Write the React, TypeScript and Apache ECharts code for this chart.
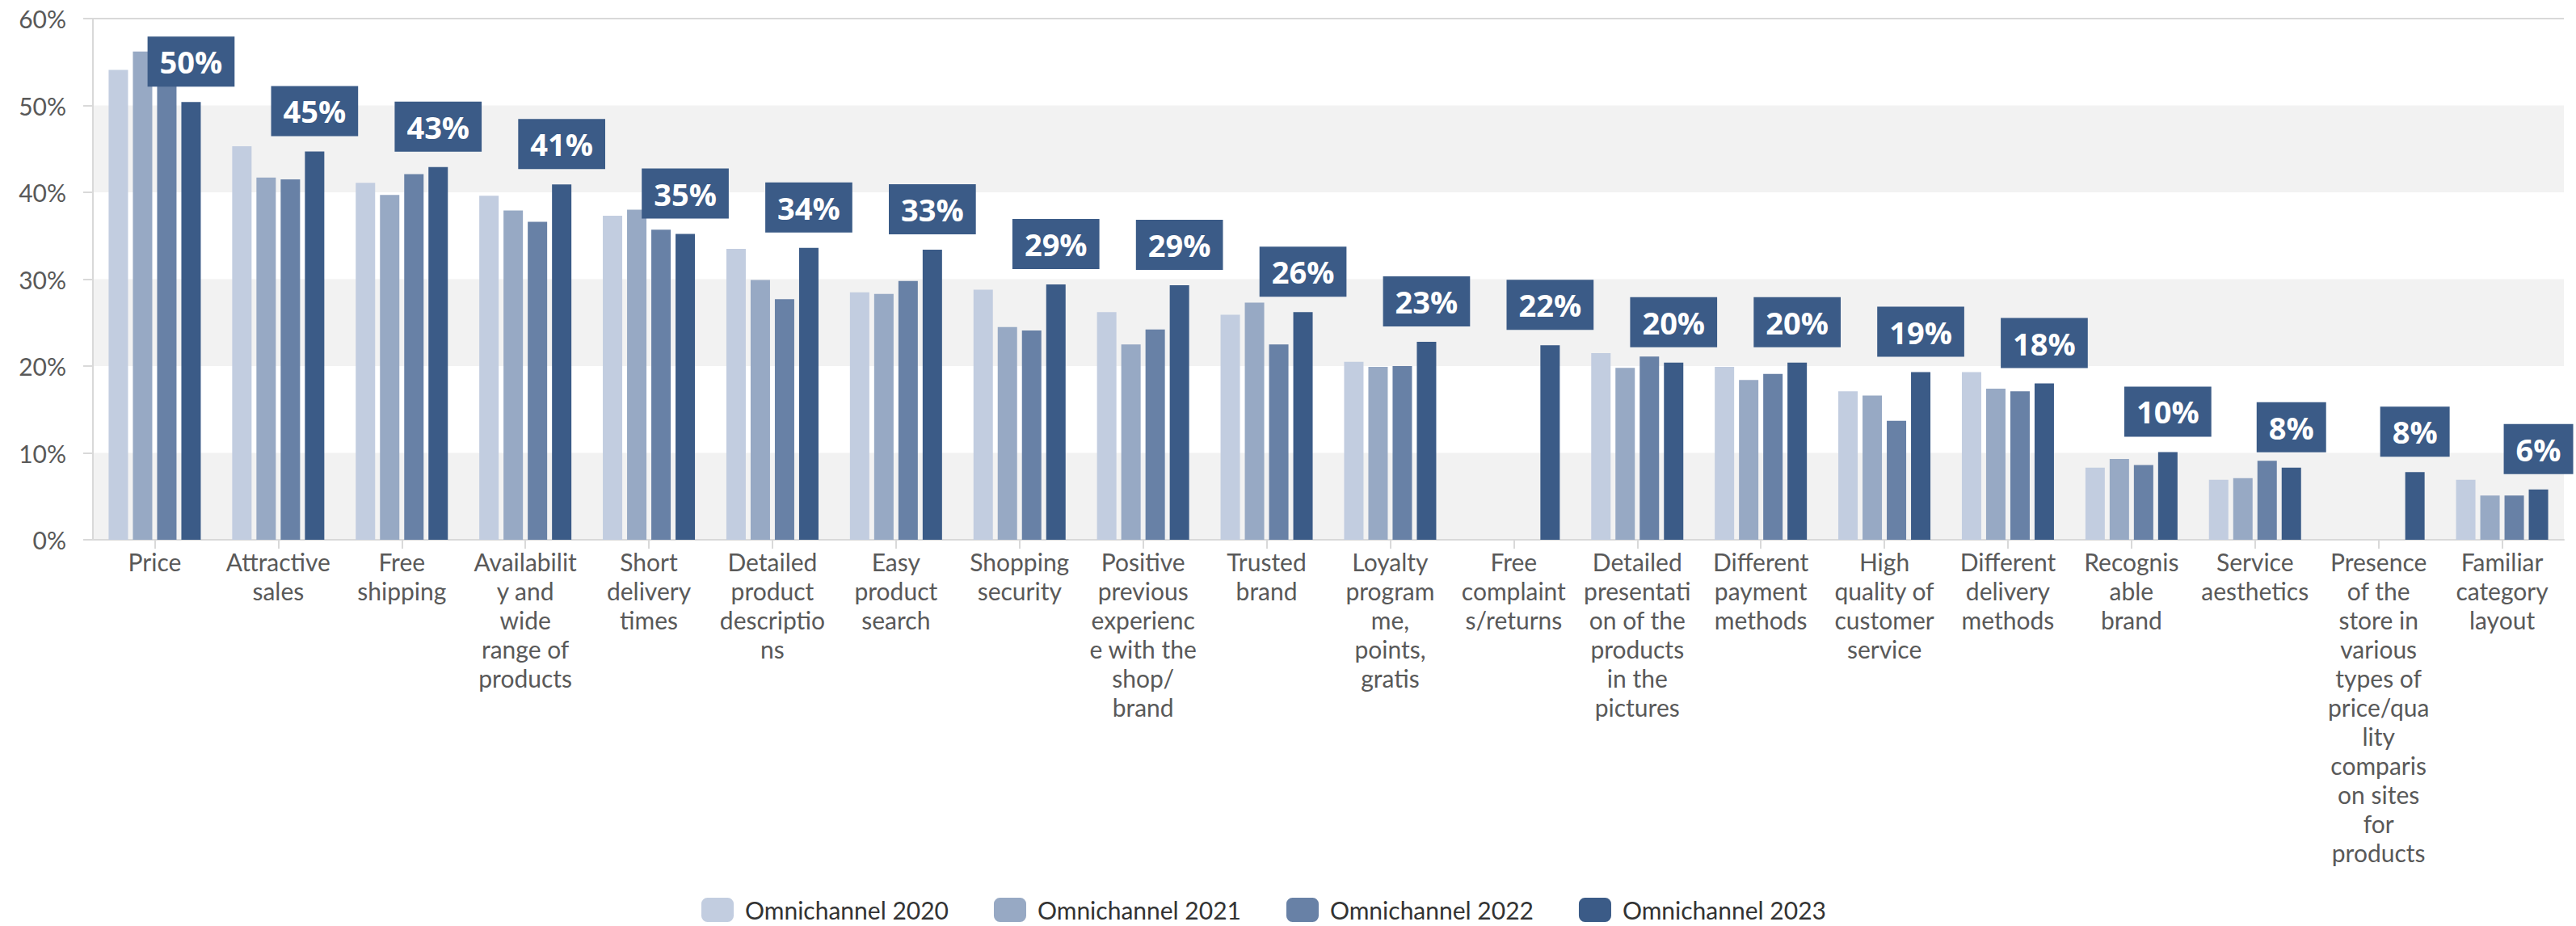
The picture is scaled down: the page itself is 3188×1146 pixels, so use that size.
import React, { useEffect, useRef } from "react";
import * as echarts from "echarts";

const categories = [
  "Price",
  "Attractive sales",
  "Free shipping",
  "Availability and wide range of products",
  "Short delivery times",
  "Detailed product descriptions",
  "Easy product search",
  "Shopping security",
  "Positive previous experience with the shop/brand",
  "Trusted brand",
  "Loyalty programme, points, gratis",
  "Free complaints/returns",
  "Detailed presentation of the products in the pictures",
  "Different payment methods",
  "High quality of customer service",
  "Different delivery methods",
  "Recognisable brand",
  "Service aesthetics",
  "Presence of the store in various types of price/quality comparison sites for products",
  "Familiar category layout",
];

const tickLabels = [
  "Price",
  "Attractive\nsales",
  "Free\nshipping",
  "Availabilit\ny and\nwide\nrange of\nproducts",
  "Short\ndelivery\ntimes",
  "Detailed\nproduct\ndescriptio\nns",
  "Easy\nproduct\nsearch",
  "Shopping\nsecurity",
  "Positive\nprevious\nexperienc\ne with the\nshop/\nbrand",
  "Trusted\nbrand",
  "Loyalty\nprogram\nme,\npoints,\ngratis",
  "Free\ncomplaint\ns/returns",
  "Detailed\npresentati\non of the\nproducts\nin the\npictures",
  "Different\npayment\nmethods",
  "High\nquality of\ncustomer\nservice",
  "Different\ndelivery\nmethods",
  "Recognis\nable\nbrand",
  "Service\naesthetics",
  "Presence\nof the\nstore in\nvarious\ntypes of\nprice/qua\nlity\ncomparis\non sites\nfor\nproducts",
  "Familiar\ncategory\nlayout",
];

const seriesNames = ["Omnichannel 2020", "Omnichannel 2021", "Omnichannel 2022", "Omnichannel 2023"];

const omni2020 = [54.1, 45.3, 41.1, 39.6, 37.3, 33.5, 28.5, 28.8, 26.2, 25.9, 20.5, null, 21.5, 19.9, 17.1, 19.3, 8.3, 6.9, null, 6.9];
const omni2021 = [56.2, 41.7, 39.7, 37.9, 38.0, 29.9, 28.3, 24.5, 22.5, 27.3, 19.9, null, 19.8, 18.4, 16.6, 17.4, 9.3, 7.1, null, 5.1];
const omni2022 = [55.0, 41.5, 42.1, 36.6, 35.7, 27.7, 29.8, 24.1, 24.2, 22.5, 20.0, null, 21.1, 19.1, 13.7, 17.1, 8.6, 9.1, null, 5.1];
const omni2023 = [50.4, 44.7, 42.9, 40.9, 35.2, 33.6, 33.4, 29.4, 29.3, 26.2, 22.8, 22.4, 20.4, 20.4, 19.3, 18.0, 10.1, 8.3, 7.8, 5.8];

const yTicks = [0, 10, 20, 30, 40, 50, 60];

const colors = ["#c2cde0", "#97a9c4", "#6881a6", "#3b5b87"];

export default function App() {
  const ref = useRef<HTMLDivElement>(null);

  useEffect(() => {
    document.body.style.margin = "0";
    if (!ref.current) return;
    const chart = echarts.init(ref.current, undefined, { renderer: "svg" });
    const allData = [omni2020, omni2021, omni2022, omni2023];
    const axisColor = "#d9d9d9";
    const textColor = "#595959";

    const series: any[] = allData.map((d, i) => {
      const s: any = {
        name: seriesNames[i],
        type: "bar",
        data: d.map((v) => (v === null ? "-" : v)),
        barWidth: 24,
        barGap: "25%",
        itemStyle: { color: colors[i] },
        emphasis: { disabled: true },
      };
      if (i === 3) {
        s.label = {
          show: true,
          position: "top",
          distance: 19,
          backgroundColor: "#3b5b87",
          color: "#ffffff",
          fontFamily: "Open Sans",
          fontWeight: "bold",
          fontSize: 38,
          lineHeight: 40,
          padding: [11, 15, 11, 15],
          formatter: (p: any) => Math.round(p.value) + "%",
        };
      }
      if (i === 0) {
        s.markLine = {
          silent: true,
          symbol: "none",
          label: { show: false },
          lineStyle: { color: axisColor, width: 2, type: "solid" },
          data: [{ yAxis: yTicks[yTicks.length - 1] }],
        };
      }
      return s;
    });

    chart.setOption({
      animation: false,
      textStyle: { fontFamily: "Lato" },
      grid: { left: 115, right: 15, top: 23, bottom: 478, containLabel: false },
      legend: {
        data: seriesNames,
        left: 863,
        top: 1106,
        icon: "roundRect",
        itemWidth: 40,
        itemHeight: 30,
        itemGap: 56,
        textStyle: { fontFamily: "Lato", fontSize: 30, color: "#333333", padding: [0, 0, 0, 9] },
        selectedMode: false,
      },
      xAxis: {
        type: "category",
        data: categories,
        axisLine: { show: true, lineStyle: { color: axisColor, width: 2 } },
        axisTick: { show: true, alignWithLabel: true, length: 11, lineStyle: { color: axisColor, width: 2 } },
        axisLabel: {
          interval: 0,
          color: textColor,
          fontFamily: "Lato",
          fontSize: 30,
          lineHeight: 36,
          margin: 9,
          formatter: (_v: string, idx: number) => tickLabels[idx],
        },
        splitLine: { show: false },
      },
      yAxis: {
        type: "value",
        min: yTicks[0],
        max: yTicks[yTicks.length - 1],
        interval: 10,
        axisLine: { show: true, lineStyle: { color: axisColor, width: 2 } },
        axisTick: { show: true, length: 12, lineStyle: { color: axisColor, width: 2 } },
        axisLabel: {
          color: textColor,
          fontFamily: "Lato",
          fontSize: 30,
          margin: 33,
          formatter: "{value}%",
        },
        splitLine: { show: false },
        splitArea: { show: true, areaStyle: { color: ["#f2f2f2", "rgba(255,255,255,0)"] } },
      },
      series,
    });
    return () => chart.dispose();
  }, []);

  return <div ref={ref} style={{ width: 3188, height: 1146 }} />;
}
